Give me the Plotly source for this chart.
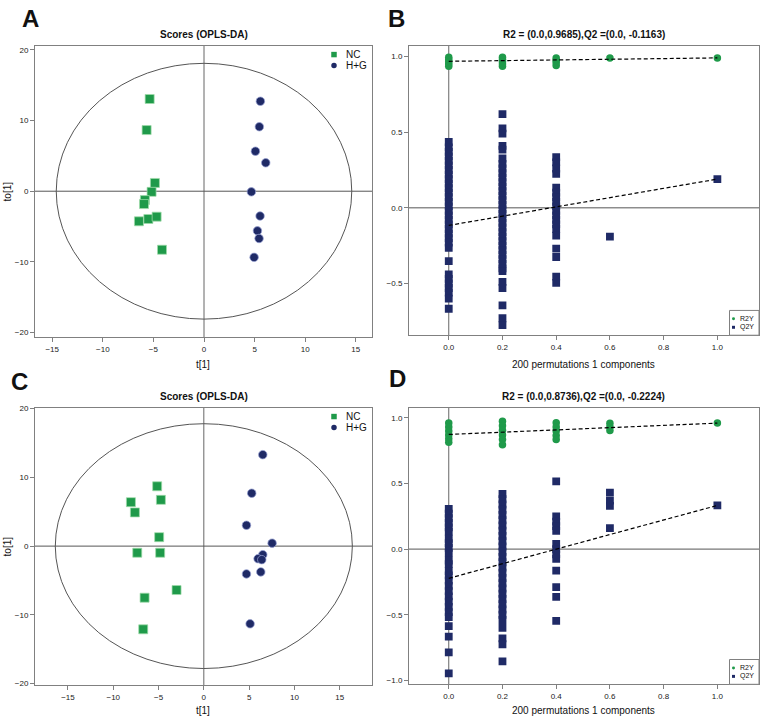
import plotly.graph_objects as go

W, H = 761, 724
FONT = "Liberation Sans"
GREEN = "#1f9a4a"
NAVY = "#1f2a66"

# ---------------- Panel A : OPLS-DA scores ----------------
a_nc_t = [-5.37, -5.67, -4.85, -5.18, -5.84, -5.93, -6.43, -5.50, -4.68, -4.15]
a_nc_to = [13.05, 8.65, 1.17, -0.09, -1.26, -1.82, -4.26, -3.93, -3.60, -8.28]
a_hg_t = [5.57, 5.47, 5.08, 6.10, 4.68, 5.54, 5.28, 5.44, 4.95]
a_hg_to = [12.73, 9.12, 5.66, 4.02, -0.09, -3.51, -5.61, -6.69, -9.36]
a_ellipse_rx, a_ellipse_ry = 14.6, 18.1

# ---------------- Panel C : OPLS-DA scores ----------------
c_nc_t = [-5.15, -4.74, -8.05, -7.61, -4.93, -7.35, -4.82, -3.01, -6.54, -6.69]
c_nc_to = [8.70, 6.73, 6.39, 4.90, 1.30, -0.96, -0.96, -6.39, -7.50, -12.10]
c_hg_t = [6.51, 5.29, 4.71, 7.54, 6.51, 5.99, 6.40, 4.71, 6.29, 5.11]
c_hg_to = [13.30, 7.69, 3.03, 0.43, -1.25, -1.83, -1.97, -4.04, -3.75, -11.30]
c_ellipse_rx, c_ellipse_ry = 16.4, 17.8

# ---------------- Panel B : permutation test ----------------
b_r2_00 = [0.995, 0.98, 0.965, 0.95, 0.935]
b_r2_02 = [0.995, 0.98, 0.965, 0.95, 0.935]
b_r2_04 = [0.99, 0.975, 0.96, 0.94]
b_r2_06 = [0.99]
b_r2_10 = [0.991]
b_q2_00 = [0.435, 0.40, 0.37, 0.34, 0.31, 0.28, 0.25, 0.22, 0.19, 0.16, 0.13, 0.10,
           0.07, 0.04, 0.01, -0.02, -0.05, -0.08, -0.11, -0.14, -0.17, -0.20, -0.23,
           -0.265, -0.352, -0.44, -0.47, -0.50, -0.53, -0.56, -0.60, -0.667]
b_q2_02 = [0.62, 0.525, 0.49, 0.41, 0.385, 0.326, 0.29, 0.26, 0.23, 0.20, 0.17, 0.14,
           0.11, 0.08, 0.05, 0.02, -0.01, -0.04, -0.07, -0.10, -0.13, -0.16, -0.19,
           -0.22, -0.25, -0.28, -0.31, -0.34, -0.37, -0.40, -0.418, -0.49, -0.53,
           -0.645, -0.73, -0.775]
b_q2_04 = [0.335, 0.30, 0.26, 0.225, 0.134, 0.10, 0.07, 0.04, 0.01, -0.02, -0.05,
           -0.08, -0.11, -0.14, -0.184, -0.27, -0.325, -0.455, -0.496]
b_q2_06 = [-0.19]
b_q2_10 = [0.19]
b_r2_intercept, b_q2_intercept = 0.9685, -0.1163

# ---------------- Panel D : permutation test ----------------
d_r2_00 = [0.96, 0.93, 0.90, 0.87, 0.84, 0.815]
d_r2_02 = [0.975, 0.94, 0.905, 0.87, 0.835, 0.795]
d_r2_04 = [0.963, 0.93, 0.90, 0.865, 0.835]
d_r2_06 = [0.958, 0.93, 0.903]
d_r2_10 = [0.96]
d_q2_00 = [0.306, 0.27, 0.235, 0.20, 0.165, 0.133, 0.079, 0.045, 0.01, -0.031, -0.087,
           -0.114, -0.168, -0.20, -0.24, -0.28, -0.32, -0.36, -0.40, -0.44, -0.48,
           -0.518, -0.586, -0.667, -0.787, -0.946]
d_q2_02 = [0.42, 0.38, 0.34, 0.30, 0.26, 0.22, 0.18, 0.14, 0.10, 0.06, 0.02, -0.02,
           -0.06, -0.10, -0.14, -0.18, -0.22, -0.26, -0.30, -0.34, -0.38, -0.42,
           -0.46, -0.50, -0.54, -0.60, -0.68, -0.725, -0.856]
d_q2_04 = [0.516, 0.25, 0.21, 0.175, 0.14, 0.04, 0.00, -0.04, -0.074, -0.164, -0.29,
           -0.364, -0.547]
d_q2_06 = [0.43, 0.37, 0.33, 0.16]
d_q2_10 = [0.333]
d_r2_intercept, d_q2_intercept = 0.8736, -0.2224

perm_levels = [0.0, 0.2, 0.4, 0.6, 1.0]


def stack(levels, groups):
    xs, ys = [], []
    for lv, g in zip(levels, groups):
        xs += [lv] * len(g)
        ys += list(g)
    return xs, ys


def xd(p0, p1):
    return [p0 / W, p1 / W]


def yd(top, bottom):
    return [1 - bottom / H, 1 - top / H]


def px(x):
    return x / W


def py(y):
    return 1 - y / H


fig = go.Figure()

# scores panels
for ax, nct, ncto, hgt, hgto in [
    ("", a_nc_t, a_nc_to, a_hg_t, a_hg_to),
    ("3", c_nc_t, c_nc_to, c_hg_t, c_hg_to),
]:
    fig.add_trace(go.Scatter(x=nct, y=ncto, mode="markers", name="NC",
                             xaxis="x" + ax, yaxis="y" + ax, showlegend=False,
                             marker=dict(symbol="square", size=9, color=GREEN,
                                         line=dict(width=0.8, color="rgba(160,220,170,0.9)"))))
    fig.add_trace(go.Scatter(x=hgt, y=hgto, mode="markers", name="H+G",
                             xaxis="x" + ax, yaxis="y" + ax, showlegend=False,
                             marker=dict(symbol="circle", size=8.5, color=NAVY,
                                         line=dict(width=0.8, color="rgba(150,160,210,0.9)"))))

# permutation panels
for ax, r2g, q2g, r2i, q2i in [
    ("2", [b_r2_00, b_r2_02, b_r2_04, b_r2_06, b_r2_10],
     [b_q2_00, b_q2_02, b_q2_04, b_q2_06, b_q2_10], b_r2_intercept, b_q2_intercept),
    ("4", [d_r2_00, d_r2_02, d_r2_04, d_r2_06, d_r2_10],
     [d_q2_00, d_q2_02, d_q2_04, d_q2_06, d_q2_10], d_r2_intercept, d_q2_intercept),
]:
    rx, ry = stack(perm_levels, r2g)
    qx, qy = stack(perm_levels, q2g)
    fig.add_trace(go.Scatter(x=rx, y=ry, mode="markers", name="R2Y",
                             xaxis="x" + ax, yaxis="y" + ax, showlegend=False,
                             marker=dict(symbol="circle", size=7.5, color=GREEN)))
    fig.add_trace(go.Scatter(x=qx, y=qy, mode="markers", name="Q2Y",
                             xaxis="x" + ax, yaxis="y" + ax, showlegend=False,
                             marker=dict(symbol="square", size=7.8, color=NAVY)))
    # regression lines: intercept -> original model
    fig.add_trace(go.Scatter(x=[perm_levels[0], perm_levels[-1]], y=[r2i, r2g[-1][0]],
                             mode="lines", showlegend=False, xaxis="x" + ax, yaxis="y" + ax,
                             line=dict(color="black", width=1.2, dash="4px,2.5px")))
    fig.add_trace(go.Scatter(x=[perm_levels[0], perm_levels[-1]], y=[q2i, q2g[-1][0]],
                             mode="lines", showlegend=False, xaxis="x" + ax, yaxis="y" + ax,
                             line=dict(color="black", width=1.2, dash="4px,2.5px")))

axis_style = dict(showline=True, mirror=True, linecolor="#808080", linewidth=1,
                  ticks="outside", ticklen=4, tickcolor="#808080", showgrid=False,
                  zeroline=False, tickfont=dict(size=8, color="#222", family=FONT))

layout = dict(
    width=W, height=H, margin=dict(l=0, r=0, t=0, b=0),
    paper_bgcolor="white", plot_bgcolor="white", showlegend=False,
    font=dict(family=FONT, color="#111"),
    xaxis=dict(domain=xd(35, 372), range=[-16.7, 16.6], tickvals=[-15, -10, -5, 0, 5, 10, 15],
               anchor="y", **axis_style),
    yaxis=dict(domain=yd(43, 337), range=[-20.66, 20.6], tickvals=[-20, -10, 0, 10, 20],
               anchor="x", **axis_style),
    xaxis2=dict(domain=xd(409, 759), range=[-0.148, 1.155], tickvals=[0, 0.2, 0.4, 0.6, 0.8, 1.0],
                tickformat=".1f", anchor="y2", **axis_style),
    yaxis2=dict(domain=yd(43, 335), range=[-0.842, 1.072], tickvals=[-0.5, 0, 0.5, 1.0],
                tickformat=".1f", anchor="x2", **axis_style),
    xaxis3=dict(domain=xd(35, 372), range=[-18.64, 18.57], tickvals=[-15, -10, -5, 0, 5, 10, 15],
                anchor="y3", **axis_style),
    yaxis3=dict(domain=yd(408, 688), range=[-20.24, 20.14], tickvals=[-20, -10, 0, 10, 20],
                anchor="x3", **axis_style),
    xaxis4=dict(domain=xd(409, 759), range=[-0.148, 1.155], tickvals=[0, 0.2, 0.4, 0.6, 0.8, 1.0],
                tickformat=".1f", anchor="y4", **axis_style),
    yaxis4=dict(domain=yd(408, 687), range=[-1.03, 1.078], tickvals=[-1.0, -0.5, 0, 0.5, 1.0],
                tickformat=".1f", anchor="x4", **axis_style),
)
fig.update_layout(**layout)

# ellipses and zero lines
shapes = []
for ax, rx_, ry_ in [("", a_ellipse_rx, a_ellipse_ry), ("3", c_ellipse_rx, c_ellipse_ry)]:
    shapes.append(dict(type="circle", xref="x" + ax, yref="y" + ax, x0=-rx_, x1=rx_,
                       y0=-ry_, y1=ry_, line=dict(color="#555", width=1), layer="below"))
for ax in ["", "2", "3", "4"]:
    shapes.append(dict(type="line", xref="x" + ax, yref="y" + ax + " domain", x0=0, x1=0,
                       y0=0, y1=1, line=dict(color="#666", width=1), layer="below"))
    shapes.append(dict(type="line", xref="x" + ax + " domain", yref="y" + ax, x0=0, x1=1,
                       y0=0, y1=0, line=dict(color="#555", width=1), layer="below"))


def ann(text, x, y, size, bold=False, angle=0, xanchor="center"):
    return dict(text=("<b>%s</b>" % text) if bold else text, x=px(x), y=py(y),
                xref="paper", yref="paper", xanchor=xanchor, yanchor="middle",
                showarrow=False, textangle=angle,
                font=dict(size=size, family=FONT, color="#111"))


def sym(kind, cx, cy, s, color):
    return dict(type="rect" if kind == "square" else "circle", xref="paper", yref="paper",
                x0=px(cx - s / 2), x1=px(cx + s / 2), y0=py(cy + s / 2), y1=py(cy - s / 2),
                fillcolor=color, line=dict(width=0), layer="above")


annotations = [
    ann("A", 30, 16, 24, True), ann("B", 396, 16, 24, True),
    ann("C", 19, 382, 24, True), ann("D", 397, 379, 24, True),
    ann("Scores (OPLS-DA)", 204, 31.5, 10, True),
    ann("Scores (OPLS-DA)", 204, 396.5, 10, True),
    ann("R2 = (0.0,0.9685),Q2 =(0.0, -0.1163)", 583.5, 31.5, 10, True),
    ann("R2 = (0.0,0.8736),Q2 =(0.0, -0.2224)", 583.5, 396.5, 10, True),
    ann("t[1]", 203, 365, 10), ann("t[1]", 203, 713, 10),
    ann("200 permutations 1 components", 583, 365, 10),
    ann("200 permutations 1 components", 583, 713, 10),
    ann("to[1]", 7, 190, 10, angle=-90), ann("to[1]", 7, 548, 10, angle=-90),
]

# legends (score plots)
for y1, y2 in [(52, 63), (417, 428)]:
    shapes.append(sym("square", 334, y1, 5.5, GREEN))
    shapes.append(sym("circle", 334, y2, 5.5, NAVY))
    annotations.append(ann("NC", 344, y1, 10, xanchor="left"))
    annotations.append(ann("H+G", 344, y2, 10, xanchor="left"))

# legends (permutation plots)
for top, bottom, y1, y2 in [(310, 335, 318.5, 327), (662, 687, 670.5, 679)]:
    shapes.append(dict(type="rect", xref="paper", yref="paper", x0=px(729.5), x1=px(759),
                       y0=py(bottom), y1=py(top), fillcolor="white",
                       line=dict(color="#808080", width=1), layer="above"))
    shapes.append(sym("circle", 733.5, y1, 3, GREEN))
    shapes.append(sym("square", 733.5, y2, 3, NAVY))
    annotations.append(ann("R2Y", 738, y1, 7, xanchor="left"))
    annotations.append(ann("Q2Y", 738, y2, 7, xanchor="left"))

fig.update_layout(shapes=shapes, annotations=annotations)

fig.write_html("out.html", config={"displayModeBar": False},
               post_script="document.body.style.margin='0';document.body.style.padding='0';")
